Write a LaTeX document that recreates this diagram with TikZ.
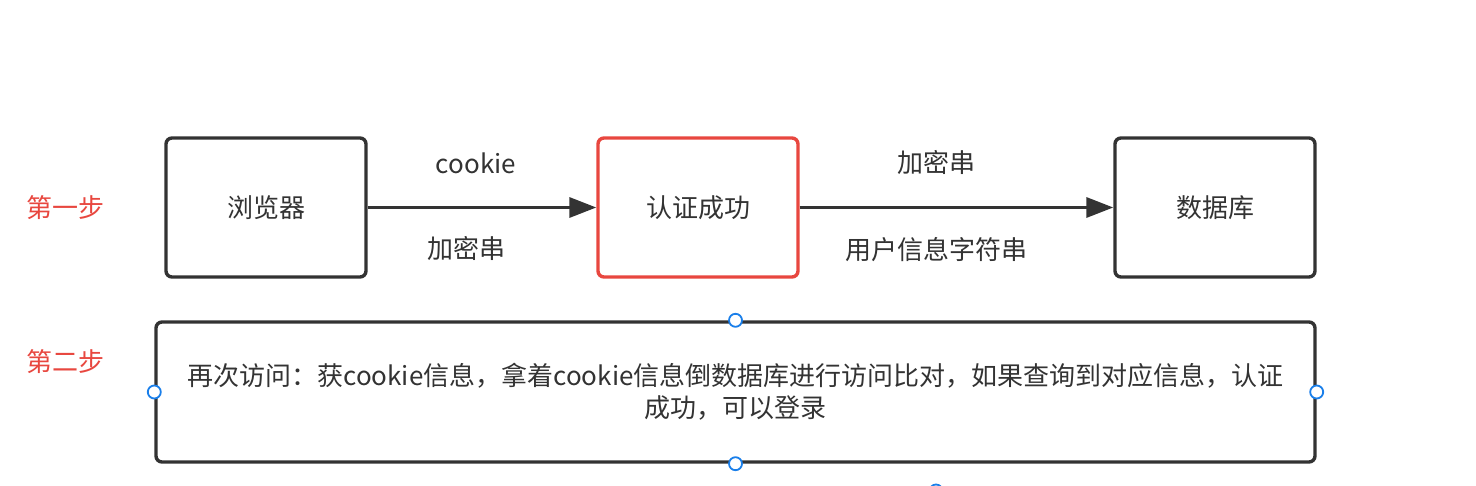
\documentclass[tikz,border=0pt]{standalone}
\usepackage{fontspec}
\setmainfont{Noto Sans CJK SC}
\usetikzlibrary{arrows.meta}
\definecolor{ink}{HTML}{333333}
\definecolor{redc}{HTML}{E8473F}
\definecolor{handlec}{HTML}{1A7FEA}
\begin{document}
\begin{tikzpicture}[x=1pt,y=-1pt,
  every node/.style={font=\fontsize{26}{32}\selectfont, text=ink},
  box/.style={draw=ink, line width=3.4pt, rounded corners=6pt, fill=white, inner sep=0pt},
  redbox/.style={box, draw=redc},
  arr/.style={draw=ink, line width=3.4pt, -{Triangle[length=27pt,width=20pt]}},
  lbl/.style={inner sep=0pt},
  steplbl/.style={inner sep=0pt, text=redc},
  handle/.style={draw=handlec, line width=1.8pt, fill=white}]
\useasboundingbox (0,0) rectangle (1476,486);
\clip (0,0) rectangle (1476,486);
\fill[white] (0,0) rectangle (1476,486);

\node[box, minimum width=200pt, minimum height=139pt] (browser) at (266,207.5) {浏览器};
\node[redbox, minimum width=200pt, minimum height=139pt] (auth) at (698,207.5) {认证成功};
\node[box, minimum width=200pt, minimum height=139pt] (db) at (1215,207.5) {数据库};

\draw[arr] (browser.east) -- (auth.west);
\draw[arr] (auth.east) -- (db.west);

\node[lbl] (l1) at (476,163) {cookie};
\node[lbl] (l2) at (466,249) {加密串};
\node[lbl] (l3) at (936,163) {加密串};
\node[lbl] (l4) at (936,250) {用户信息字符串};

\node[steplbl] (s1) at (66,208) {第一步};
\node[steplbl] (s2) at (66,362) {第二步};

\node[box, minimum width=1159pt, minimum height=140pt, align=center] (visit) at (735.5,392)
  {再次访问：获cookie信息，拿着cookie信息倒数据库进行访问比对，如果查询到对应信息，认证\\成功，可以登录};

\draw[handle] (visit.north) circle (6.5);
\draw[handle] (visit.south) circle (6.5);
\draw[handle] (visit.west) circle (6.5);
\draw[handle] (visit.east) circle (6.5);
\coordinate (h5) at (936,491);
\draw[handle] (h5) circle (6.5);
\end{tikzpicture}
\end{document}
